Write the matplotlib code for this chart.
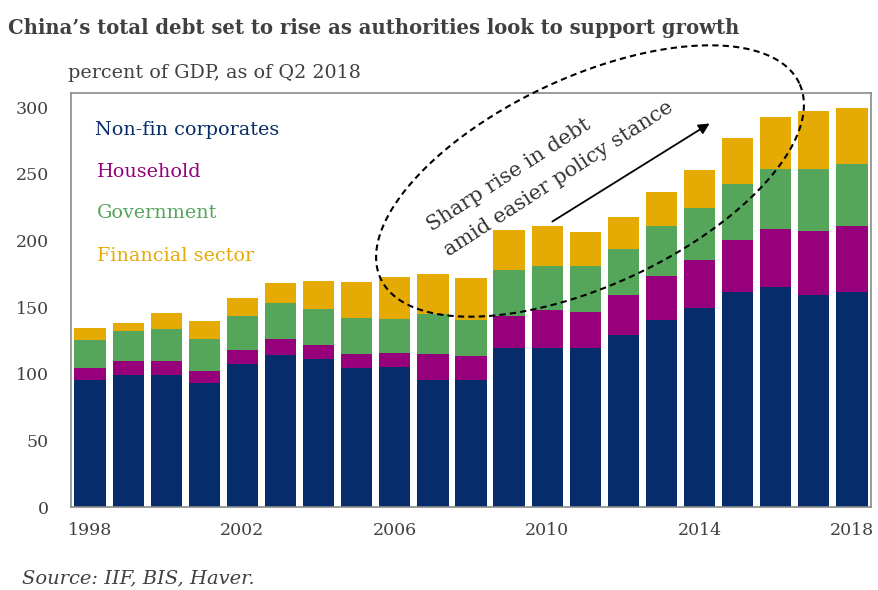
import numpy as np
import matplotlib
matplotlib.use("Agg")
import matplotlib.pyplot as plt

# percent of GDP
years = list(range(1998, 2019))
nonfin = [95, 99, 99, 93, 107, 114, 111, 104, 105, 95, 95, 119, 119, 119, 129, 140, 149, 161, 165, 159, 161]
household = [9.3, 10.8, 10.8, 9.3, 10.5, 12, 10.5, 10.5, 10.5, 19.5, 18, 24, 29, 27, 30, 33, 36, 39, 43.5, 48, 49.5]
government = [20.7, 22.5, 23.7, 23.7, 25.5, 27, 27, 27, 25.5, 30, 27.5, 34.5, 32.5, 34.5, 34.5, 37.5, 39, 42, 45, 46.5, 46.5]
financial = [9, 5.5, 12, 13.5, 13.5, 15, 21, 27, 31.5, 30.5, 31, 30, 30, 25.5, 24, 25.5, 28.5, 34.5, 39, 43.5, 42]
series_names = ["Non-fin corporates", "Household", "Government", "Financial sector"]
yticks = [0, 50, 100, 150, 200, 250, 300]
xtick_years = [1998, 2002, 2006, 2010, 2014, 2018]

colors = ["#062C6C", "#96007A", "#55A55A", "#E6AA05"]
grey = "#404040"
W, H = 879, 590

def fx(px):
    return px / W

def fy(py):
    return 1 - py / H

plt.rcParams["font.family"] = ["DejaVu Serif"]
fig = plt.figure(figsize=(W / 100, H / 100), dpi=100)
ax = fig.add_axes([fx(71), fy(507), (871 - 71) / W, (507 - 93) / H])

x = np.arange(len(years))
bottom = np.zeros(len(years))
for vals, c in zip([nonfin, household, government, financial], colors):
    vals = np.array(vals, dtype=float)
    ax.bar(x, vals, width=0.82, bottom=bottom, color=c, edgecolor="none", zorder=2)
    bottom += vals

ax.set_xlim(-0.5, len(years) - 0.5)
ax.set_ylim(0, 310.5)
ax.set_yticks(yticks)
ax.set_yticklabels([str(v) for v in yticks], fontsize=12.5, color=grey)
ax.set_xticks([years.index(y) for y in xtick_years])
ax.set_xticklabels([str(y) for y in xtick_years], fontsize=12.5, color=grey)
ax.tick_params(length=0, pad=11)
ax.tick_params(axis="y", pad=16)
for s in ax.spines.values():
    s.set_color("#8a8a8a")
    s.set_linewidth(1.2)

# legend as coloured text
legend_pos = [(95, 130), (97, 172), (97, 213), (97, 256)]
for name, c, (px, py) in zip(series_names, colors, legend_pos):
    fig.text(fx(px), fy(py), name, color=c, fontsize=13.8, va="center", ha="left")

# titles
fig.text(fx(8), fy(28), "China\u2019s total debt set to rise as authorities look to support growth",
         fontsize=14.1, fontweight="bold", color=grey, va="center", ha="left")
fig.text(fx(68), fy(73), "percent of GDP, as of Q2 2018", fontsize=13.8, color=grey,
         va="center", ha="left")
fig.text(fx(22), fy(578), "Source: IIF, BIS, Haver.", fontsize=14, color=grey,
         style="italic", va="center", ha="left")

# dashed ellipse around the recent rise (pixel space)
cx, cy, a, b, ang = 590, 181, 231, 104, np.deg2rad(25)
t = np.linspace(0, 2 * np.pi, 400)
ex = cx + a * np.cos(t) * np.cos(ang) - b * np.sin(t) * np.sin(ang)
ey = cy - (a * np.cos(t) * np.sin(ang) + b * np.sin(t) * np.cos(ang))
fig.add_artist(plt.Line2D(fx(ex), fy(ey), transform=fig.transFigure, color="black",
                          lw=1.5, linestyle=(0, (3, 2))))

# arrow and annotation text
ax.annotate("", xy=(fx(712), fy(122)), xytext=(fx(550), fy(223)),
            xycoords="figure fraction", textcoords="figure fraction",
            arrowprops=dict(arrowstyle="-|>", color="black", lw=1.3, mutation_scale=16))
fig.text(fx(432), fy(232), "Sharp rise in debt", rotation=33, rotation_mode="anchor",
         ha="left", va="baseline", fontsize=15, color="#333333")
fig.text(fx(449), fy(257), "amid easier policy stance", rotation=33, rotation_mode="anchor",
         ha="left", va="baseline", fontsize=15, color="#333333")

fig.savefig("out.png", dpi=100)
